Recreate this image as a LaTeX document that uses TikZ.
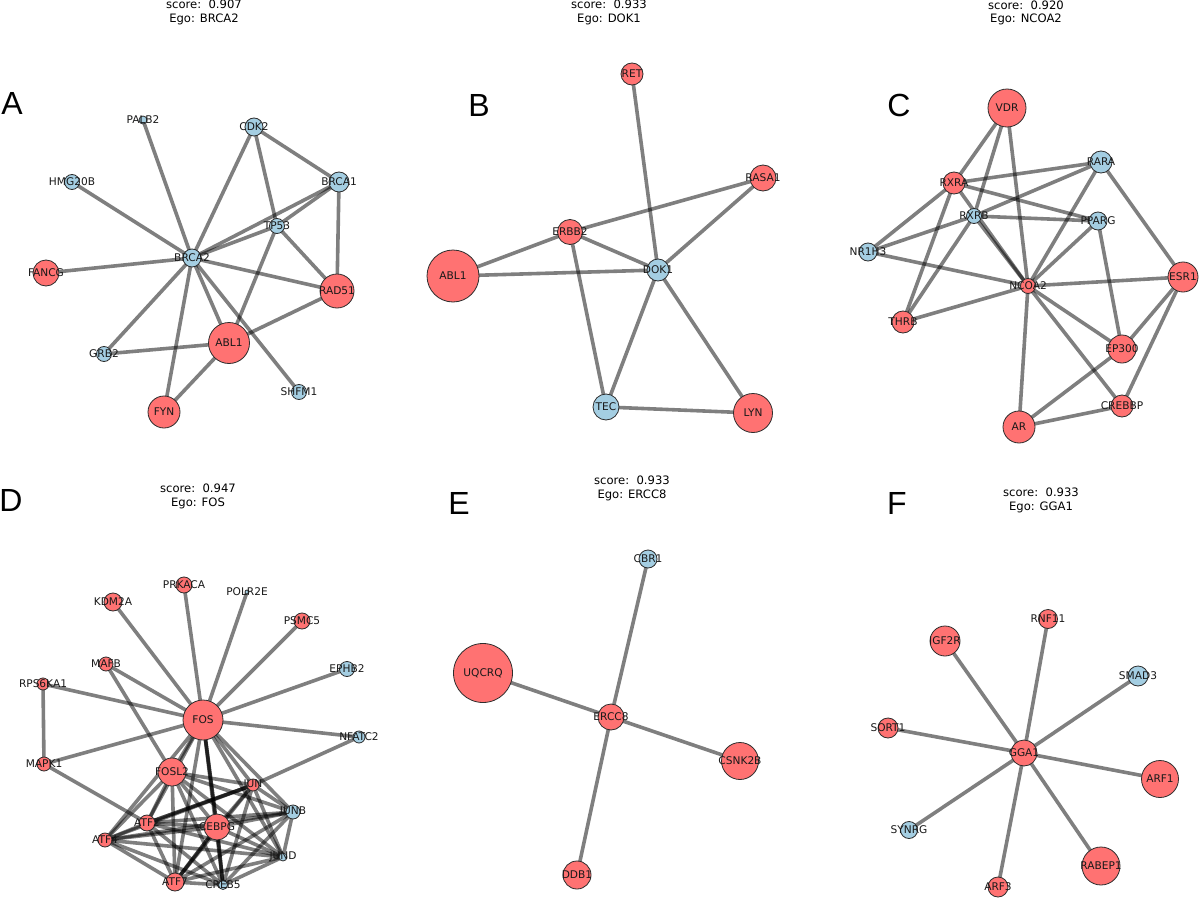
\documentclass[tikz,border=0pt]{standalone}
\usepackage{fontspec}
\setmainfont{DejaVu Sans}
\newfontfamily\letterfont{Liberation Sans}
\pgfdeclarelayer{bg}
\pgfsetlayers{bg,main}
\tikzset{
 gnode/.style={circle,draw={rgb,255:red,45;green,45;blue,45},line width=0.8pt,inner sep=0pt},
 rednode/.style={gnode,fill={rgb,255:red,255;green,114;blue,114}},
 bluenode/.style={gnode,fill={rgb,255:red,164;green,206;blue,226}},
 lbl/.style={font=\fontsize{10.6}{12}\selectfont,text={rgb,255:red,25;green,25;blue,25},inner sep=0pt},
 edge/.style={draw=black,draw opacity=0.5,line width=3.6pt},
 title/.style={font=\fontsize{11.6}{13.5}\selectfont,align=center,inner sep=0pt},
 letter/.style={font=\letterfont\fontsize{32}{32}\selectfont,inner sep=0pt}
}
\newcommand\gn[6]{\node[#5,minimum size=2*#4pt,label={[lbl]center:#6}] (#1) at (#2,#3) {};}
\newcommand\ed[2]{\draw[edge] (#1.center) -- (#2.center);}
\begin{document}
\begin{tikzpicture}[x=1pt,y=-1pt]
\useasboundingbox (0,0) rectangle (1200,899);
% titles and letters
\node[title] (ta) at (204,12.5) {score:\ \ 0.907\\Ego: BRCA2};
\node[title] (tb) at (609,12.5) {score:\ \ 0.933\\Ego: DOK1};
\node[title] (tc) at (1026,13) {score:\ \ 0.920\\Ego: NCOA2};
\node[title] (td) at (198,496.5) {score:\ \ 0.947\\Ego: FOS};
\node[title] (te) at (632,488.5) {score:\ \ 0.933\\Ego: ERCC8};
\node[title] (tf) at (1041,500.5) {score:\ \ 0.933\\Ego: GGA1};
\node[letter] (la) at (12,103) {A};
\node[letter] (lb) at (479,105) {B};
\node[letter] (lc) at (899,105) {C};
\node[letter] (ld) at (11,500) {D};
\node[letter] (le) at (459,503) {E};
\node[letter] (lf) at (897,503) {F};
% Panel A
\gn{a-palb2}{143}{120}{4}{bluenode}{PALB2}
\gn{a-cdk2}{254}{127}{9}{bluenode}{CDK2}
\gn{a-hmg20b}{72}{182}{7.5}{bluenode}{HMG20B}
\gn{a-brca1}{339}{182}{10}{bluenode}{BRCA1}
\gn{a-tp53}{277}{226}{7.5}{bluenode}{TP53}
\gn{a-brca2}{192}{258}{9}{bluenode}{BRCA2}
\gn{a-fancg}{46}{273}{13}{rednode}{FANCG}
\gn{a-rad51}{337}{291}{17}{rednode}{RAD51}
\gn{a-abl1}{229}{343}{20.5}{rednode}{ABL1}
\gn{a-grb2}{104}{354}{7.5}{bluenode}{GRB2}
\gn{a-shfm1}{299}{392}{7.5}{bluenode}{SHFM1}
\gn{a-fyn}{164}{412}{16}{rednode}{FYN}
% Panel B
\gn{b-ret}{632}{74}{11}{rednode}{RET}
\gn{b-rasa1}{763}{178}{13}{rednode}{RASA1}
\gn{b-erbb2}{570}{232}{12.5}{rednode}{ERBB2}
\gn{b-abl1}{453}{276}{26}{rednode}{ABL1}
\gn{b-dok1}{658}{270}{11}{bluenode}{DOK1}
\gn{b-tec}{606}{407}{13}{bluenode}{TEC}
\gn{b-lyn}{753}{413}{19.5}{rednode}{LYN}
% Panel C
\gn{c-vdr}{1007}{108}{19}{rednode}{VDR}
\gn{c-rara}{1101}{162}{11}{bluenode}{RARA}
\gn{c-rxra}{954}{183}{11}{rednode}{RXRA}
\gn{c-rxrb}{974}{216}{7.5}{bluenode}{RXRB}
\gn{c-pparg}{1098}{221}{9}{bluenode}{PPARG}
\gn{c-nr1h3}{868}{252}{9}{bluenode}{NR1H3}
\gn{c-ncoa2}{1028}{286}{7.5}{rednode}{NCOA2}
\gn{c-esr1}{1183}{277}{15}{rednode}{ESR1}
\gn{c-thrb}{903}{322}{11}{rednode}{THRB}
\gn{c-ep300}{1122}{349}{14}{rednode}{EP300}
\gn{c-crebbp}{1122}{406}{11}{rednode}{CREBBP}
\gn{c-ar}{1019}{427}{16}{rednode}{AR}
% Panel D
\gn{d-fos}{203}{720}{20}{rednode}{FOS}
\gn{d-fosl2}{172}{772}{14}{rednode}{FOSL2}
\gn{d-jun}{253}{785}{6}{rednode}{JUN}
\gn{d-junb}{293}{812}{7}{bluenode}{JUNB}
\gn{d-cebpg}{217}{827}{13}{rednode}{CEBPG}
\gn{d-atf2}{147}{823}{8}{rednode}{ATF2}
\gn{d-atf4}{105}{840}{7}{rednode}{ATF4}
\gn{d-jund}{283}{857}{4}{bluenode}{JUND}
\gn{d-atf7}{175}{882}{9}{rednode}{ATF7}
\gn{d-creb5}{223}{885}{4.5}{bluenode}{CREB5}
\gn{d-mapk1}{44}{764}{7}{rednode}{MAPK1}
\gn{d-rps6ka1}{43}{684}{6}{rednode}{RPS6KA1}
\gn{d-mafb}{106}{664}{7}{rednode}{MAFB}
\gn{d-kdm2a}{113}{602}{9}{rednode}{KDM2A}
\gn{d-prkaca}{184}{585}{8}{rednode}{PRKACA}
\gn{d-polr2e}{247}{592}{2}{bluenode}{POLR2E}
\gn{d-psmc5}{302}{621}{8}{rednode}{PSMC5}
\gn{d-ephb2}{347}{669}{7.5}{bluenode}{EPHB2}
\gn{d-nfatc2}{359}{737}{6}{bluenode}{NFATC2}
% Panel E
\gn{e-cbr1}{648}{559}{9}{bluenode}{CBR1}
\gn{e-uqcrq}{483}{673}{29.5}{rednode}{UQCRQ}
\gn{e-ercc8}{611}{717}{13}{rednode}{ERCC8}
\gn{e-csnk2b}{740}{761}{18.5}{rednode}{CSNK2B}
\gn{e-ddb1}{577}{875}{14}{rednode}{DDB1}
% Panel F
\gn{f-rnf11}{1048}{619}{9.5}{rednode}{RNF11}
\gn{f-igf2r}{945}{641}{15}{rednode}{IGF2R}
\gn{f-smad3}{1138}{676}{10}{bluenode}{SMAD3}
\gn{f-sort1}{888}{728}{10}{rednode}{SORT1}
\gn{f-gga1}{1024}{753}{13}{rednode}{GGA1}
\gn{f-arf1}{1160}{779}{18.5}{rednode}{ARF1}
\gn{f-synrg}{909}{830}{8.5}{bluenode}{SYNRG}
\gn{f-rabep1}{1101}{866}{19}{rednode}{RABEP1}
\gn{f-arf3}{998}{887}{10}{rednode}{ARF3}
\begin{pgfonlayer}{bg}
\fill[white] (0,0) rectangle (1200,899);
% A edges
\foreach \v in {palb2,hmg20b,cdk2,brca1,tp53,fancg,rad51,abl1,grb2,shfm1,fyn} {\ed{a-brca2}{a-\v}}
\foreach \u/\v in {cdk2/brca1,cdk2/tp53,brca1/tp53,brca1/rad51,tp53/rad51,tp53/abl1,abl1/rad51,abl1/grb2,abl1/fyn} {\ed{a-\u}{a-\v}}
% B edges
\foreach \u/\v in {ret/dok1,rasa1/erbb2,rasa1/dok1,erbb2/abl1,erbb2/dok1,erbb2/tec,abl1/dok1,dok1/tec,dok1/lyn,tec/lyn} {\ed{b-\u}{b-\v}}
% C edges
\foreach \u/\v in {vdr/rxra,vdr/rxrb,vdr/ncoa2,rara/rxra,rara/rxrb,rara/ncoa2,rara/esr1,rxra/pparg,rxra/nr1h3,rxra/thrb,rxra/ncoa2,rxrb/pparg,rxrb/nr1h3,rxrb/thrb,rxrb/ncoa2,pparg/ncoa2,pparg/ep300,nr1h3/ncoa2,ncoa2/thrb,ncoa2/esr1,ncoa2/ep300,ncoa2/crebbp,ncoa2/ar,esr1/ep300,esr1/crebbp,ep300/ar,crebbp/ar} {\ed{c-\u}{c-\v}}
% D edges
\foreach \v in {kdm2a,prkaca,polr2e,psmc5,ephb2,nfatc2,rps6ka1,mapk1,mafb} {\ed{d-fos}{d-\v}}
\foreach \u/\v in {rps6ka1/mapk1,mapk1/atf2,mafb/fosl2,nfatc2/jun,jun/atf2,fos/cebpg,cebpg/atf7,cebpg/creb5} {\ed{d-\u}{d-\v}}
\foreach \u [count=\i] in {fos,fosl2,jun,junb,jund,atf2,cebpg,atf4,atf7,creb5} {
  \foreach \v [count=\j] in {fos,fosl2,jun,junb,jund,atf2,cebpg,atf4,atf7,creb5} {
    \ifnum\j>\i \ed{d-\u}{d-\v}\fi
  }
}
% E edges
\foreach \v in {cbr1,uqcrq,csnk2b,ddb1} {\ed{e-ercc8}{e-\v}}
% F edges
\foreach \v in {rnf11,igf2r,smad3,sort1,arf1,synrg,rabep1,arf3} {\ed{f-gga1}{f-\v}}
\end{pgfonlayer}
\end{tikzpicture}
\end{document}
